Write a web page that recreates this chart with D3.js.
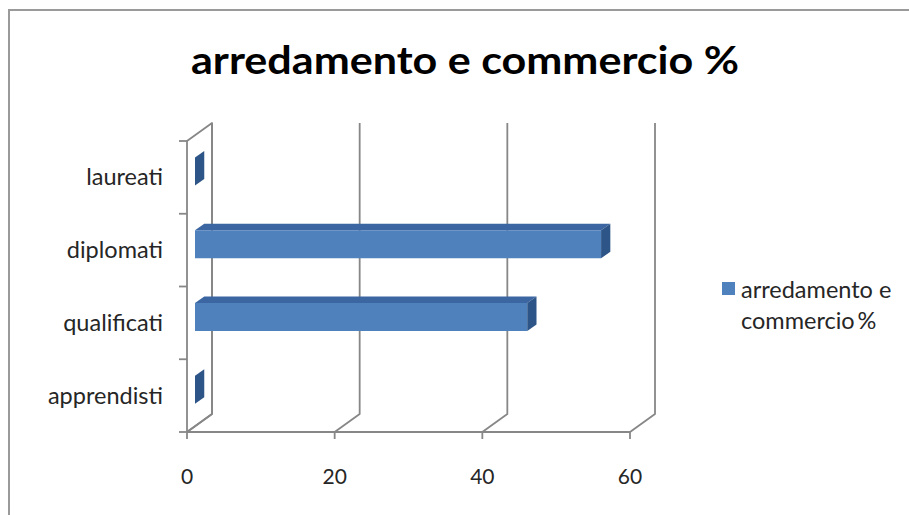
<!DOCTYPE html>
<html>
<head>
<meta charset="utf-8">
<script src="https://cdn.jsdelivr.net/npm/d3@7/dist/d3.min.js"></script>
<style>
  html, body { margin: 0; padding: 0; background: #fff; }
  svg { display: block; }
  text { font-family: Lato, "Open Sans", "DejaVu Sans", sans-serif; fill: #262626; }
</style>
</head>
<body>
<svg id="chart" width="909" height="515"></svg>
<script>
// Series data: share (%) by education level, bottom to top
const categories = ["apprendisti", "qualificati", "diplomati", "laureati"];
const values = [0, 45, 55, 0];
const xTicks = [0, 20, 40, 60];
const seriesName = "arredamento e commercio %";
const titleText = "arredamento e commercio %";

const svg = d3.select("#chart");
const W = 909, H = 515;

// Chart area frame (only top and left edges fall inside the view)
svg.append("rect")
  .attr("x", 9).attr("y", 10)
  .attr("width", W + 20).attr("height", H + 20)
  .attr("fill", "#fff")
  .attr("stroke", "#9a9a9a").attr("stroke-width", 2);

// Front plane scales
const x = d3.scaleLinear().domain([0, 60]).range([187, 630]);
const y = d3.scaleBand().domain(categories).range([432, 141]);

// Oblique depth projection of the wall
const DX = 25, DY = -18;
const P = (v, py, z) => [x(v) + DX * z, py + DY * z];

const gridColor = "#878787";
const grid = svg.append("g").attr("fill", "none")
  .attr("stroke", gridColor).attr("stroke-width", 1.8)
  .attr("stroke-linejoin", "round");

const yTop = y.range()[1], yBot = y.range()[0];
const line = d3.line();

// Left wall
grid.append("path").attr("d", line([P(0, yBot, 0), P(0, yTop, 0), P(0, yTop, 1), P(0, yBot, 1), P(0, yBot, 0)]));

// Back wall gridlines with floor diagonals
xTicks.forEach(t => {
  grid.append("path").attr("d", line([P(t, yBot, 0), P(t, yBot, 1), P(t, yTop, 1)]));
});

// Value axis line and ticks
grid.append("path").attr("d", line([P(0, yBot, 0), P(60, yBot, 0)]));
xTicks.forEach(t => {
  grid.append("path").attr("d", line([[x(t), yBot], [x(t), yBot + 7]]));
});

// Category axis ticks at band boundaries
const bounds = categories.map(c => y(c)).concat([yBot]);
bounds.forEach(b => {
  grid.append("path").attr("d", line([[x(0) - 8, b], [x(0), b]]));
});

// Tick labels
svg.append("g").selectAll("text").data(xTicks).join("text")
  .attr("x", d => x(d)).attr("y", 484)
  .attr("text-anchor", "middle")
  .attr("font-size", 21)
  .text(d => d);

svg.append("g").selectAll("text").data(categories).join("text")
  .attr("x", 163).attr("y", d => y(d) + y.bandwidth() / 2 + 8)
  .attr("text-anchor", "end")
  .attr("font-size", 23.5)
  .text(d => d);

// 3D bars
const z1 = 0.32, z2 = 0.69;
const barH = 28;
const bars = svg.append("g").attr("stroke", "none");
categories.forEach((c, i) => {
  const v = values[i];
  const cy = y(c) + y.bandwidth() / 2;
  const t = cy - barH / 2, b = cy + barH / 2;
  if (v > 0) {
    // top face
    bars.append("path")
      .attr("d", line([P(0, t, z1), P(v, t, z1), P(v, t, z2), P(0, t, z2)]) + "Z")
      .attr("fill", "#3b66a1");
    // front face
    bars.append("path")
      .attr("d", line([P(0, t, z1), P(v, t, z1), P(v, b, z1), P(0, b, z1)]) + "Z")
      .attr("fill", "#4f81bd");
  }
  // end face
  bars.append("path")
    .attr("d", line([P(v, t, z1), P(v, t, z2), P(v, b, z2), P(v, b, z1)]) + "Z")
    .attr("fill", "#2e5587");
});

// Title
svg.append("text")
  .attr("x", 465).attr("y", 74)
  .attr("text-anchor", "middle")
  .attr("font-size", 39).attr("font-weight", "bold")
  .attr("textLength", 548).attr("lengthAdjust", "spacingAndGlyphs")
  .style("fill", "#000")
  .text(titleText);

// Legend
const legend = svg.append("g");
legend.append("rect")
  .attr("x", 722).attr("y", 282).attr("width", 13).attr("height", 13)
  .attr("fill", "#4f81bd");
legend.append("text")
  .attr("x", 741).attr("y", 298).attr("font-size", 23.5)
  .text("arredamento e");
legend.append("text")
  .attr("x", 741).attr("y", 329).attr("font-size", 23.5)
  .text("commercio\u2009%");
</script>
</body>
</html>
